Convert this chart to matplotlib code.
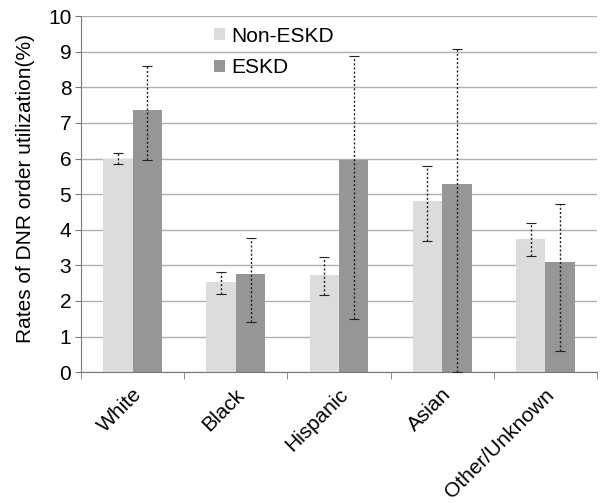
import numpy as np
import matplotlib
matplotlib.use('Agg')
import matplotlib.pyplot as plt
import matplotlib.transforms as mtrans

# 数据
categories = ['White', 'Black', 'Hispanic', 'Asian', 'Other/Unknown']
non_eskd = [6.0, 2.53, 2.72, 4.81, 3.74]
non_eskd_lo = [5.85, 2.2, 2.16, 3.69, 3.26]
non_eskd_hi = [6.15, 2.81, 3.23, 5.8, 4.19]
eskd = [7.35, 2.75, 5.95, 5.28, 3.09]
eskd_lo = [5.95, 1.41, 1.5, 0.0, 0.6]
eskd_hi = [8.6, 3.77, 8.88, 9.07, 4.71]

plt.rcParams['font.family'] = ['Liberation Sans', 'DejaVu Sans']
fs = 15

fig = plt.figure(figsize=(6, 5.03), dpi=100)
ax = fig.add_axes([0.135, 0.26, 0.86, 0.708])

x = np.arange(len(categories))
w = 0.285
ax.bar(x - w/2, non_eskd, w, color='#dcdcdc', label='Non-ESKD', zorder=2)
ax.bar(x + w/2, eskd, w, color='#969696', label='ESKD', zorder=2)

def draw_err(xs, vals, lo, hi):
    vals = np.array(vals)
    yerr = [vals - np.array(lo), np.array(hi) - vals]
    eb = ax.errorbar(xs, vals, yerr=yerr, fmt='none', ecolor='#222222',
                     elinewidth=1.0, capsize=3.5, capthick=0.8, zorder=3)
    eb[2][0].set_linestyle((0, (1.5, 1.5)))

draw_err(x - w/2, non_eskd, non_eskd_lo, non_eskd_hi)
draw_err(x + w/2, eskd, eskd_lo, eskd_hi)

ax.set_ylim(0, 10)
ax.set_xlim(-0.5, len(categories) - 0.5)
ax.set_yticks(range(0, 11))
ax.yaxis.grid(True, color='#b0b0b0', linewidth=1.0, zorder=0)
ax.set_axisbelow(True)
for s in ['top', 'right']:
    ax.spines[s].set_visible(False)
for s in ['left', 'bottom']:
    ax.spines[s].set_color('#777777')

ax.set_xticks(x)
ax.set_xticklabels(categories, rotation=45, ha='right', va='center',
                   rotation_mode='anchor', fontsize=fs)
ax.tick_params(axis='x', which='major', length=0, pad=14)
off = mtrans.ScaledTranslation(6/100, 0, fig.dpi_scale_trans)
for lab in ax.get_xticklabels():
    lab.set_transform(lab.get_transform() + off)
ax.set_xticks(np.arange(-0.5, len(categories)), minor=True)
ax.tick_params(axis='x', which='minor', length=5, color='#777777')
ax.tick_params(axis='y', labelsize=fs, length=4, color='#777777', pad=3)
ax.set_ylabel('Rates of DNR order utilization(%)', fontsize=fs)
ax.yaxis.set_label_coords(-0.09, 0.515)

ax.legend(loc='upper left', bbox_to_anchor=(0.258, 0.97), frameon=False,
          fontsize=fs, handlelength=0.5, handleheight=0.5, handletextpad=0.3,
          labelspacing=0.6, borderpad=0, borderaxespad=0)

plt.savefig('out.png', dpi=100)
